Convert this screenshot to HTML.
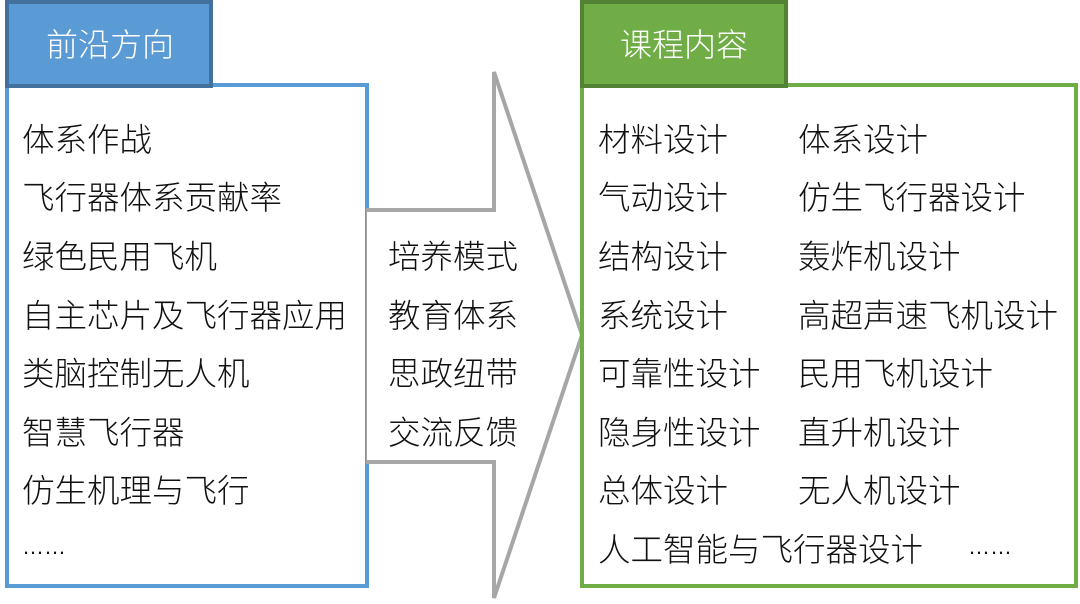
<!DOCTYPE html>
<html><head><meta charset="utf-8"><style>
body{margin:0;width:1080px;height:604px;background:#fff;position:relative;overflow:hidden;font-family:"Liberation Sans","Noto Sans CJK SC",sans-serif;}
.t{position:absolute;font-size:32.5px;line-height:38px;color:#111;white-space:nowrap;font-weight:300;}
.h{position:absolute;color:#fff;font-size:32px;line-height:38px;font-weight:300;}
</style></head><body>
<svg width="1080" height="604" style="position:absolute;left:0;top:0">
<rect x="7" y="85" width="360" height="501" fill="#fff" stroke="#5B9BD5" stroke-width="4"/>
<rect x="7" y="2" width="204" height="84" fill="#5B9BD5" stroke="#41719C" stroke-width="4"/>
<polygon points="368,210 494,210 494,72 582,335 494,598 494,462 368,462" fill="#fff" stroke="#A6A6A6" stroke-width="4"/>
<rect x="367" y="212" width="4" height="248" fill="#fff"/>
<rect x="582" y="85" width="494" height="501" fill="#fff" stroke="#70AD47" stroke-width="4"/>
<rect x="582" y="2" width="204" height="84" fill="#70AD47" stroke="#548235" stroke-width="4"/>
</svg>
<div class="h" style="left:46px;top:26px">前沿方向</div>
<div class="h" style="left:620px;top:26px">课程内容</div>
<div class="t" style="left:22px;top:121px">体系作战</div>
<div class="t" style="left:22px;top:179px">飞行器体系贡献率</div>
<div class="t" style="left:22px;top:238px">绿色民用飞机</div>
<div class="t" style="left:22px;top:297px">自主芯片及飞行器应用</div>
<div class="t" style="left:22px;top:355px">类脑控制无人机</div>
<div class="t" style="left:22px;top:414px">智慧飞行器</div>
<div class="t" style="left:22px;top:472px">仿生机理与飞行</div>
<div class="t" style="left:22px;top:528px;font-size:22px">……</div>
<div class="t" style="left:388px;top:238px">培养模式</div>
<div class="t" style="left:388px;top:297px">教育体系</div>
<div class="t" style="left:388px;top:355px">思政纽带</div>
<div class="t" style="left:388px;top:414px">交流反馈</div>
<div class="t" style="left:598px;top:121px">材料设计</div>
<div class="t" style="left:598px;top:179px">气动设计</div>
<div class="t" style="left:598px;top:238px">结构设计</div>
<div class="t" style="left:598px;top:297px">系统设计</div>
<div class="t" style="left:598px;top:355px">可靠性设计</div>
<div class="t" style="left:598px;top:414px">隐身性设计</div>
<div class="t" style="left:598px;top:472px">总体设计</div>
<div class="t" style="left:598px;top:531px">人工智能与飞行器设计</div>
<div class="t" style="left:798px;top:121px">体系设计</div>
<div class="t" style="left:798px;top:179px">仿生飞行器设计</div>
<div class="t" style="left:798px;top:238px">轰炸机设计</div>
<div class="t" style="left:798px;top:297px">高超声速飞机设计</div>
<div class="t" style="left:798px;top:355px">民用飞机设计</div>
<div class="t" style="left:798px;top:414px">直升机设计</div>
<div class="t" style="left:798px;top:472px">无人机设计</div>
<div class="t" style="left:968px;top:528px;font-size:22px">……</div>
</body></html>
